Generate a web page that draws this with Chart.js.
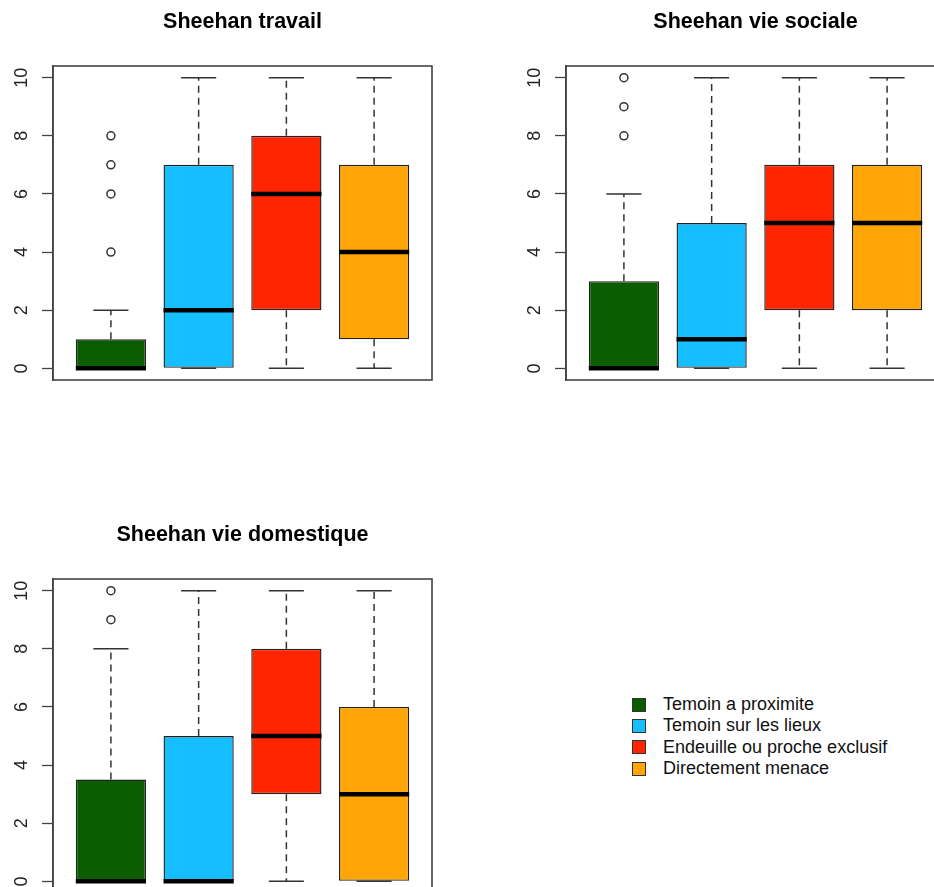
<!DOCTYPE html>
<html>
<head>
<meta charset="utf-8">
<title>Sheehan</title>
<script src="https://cdn.jsdelivr.net/npm/chart.js@4/dist/chart.umd.min.js"></script>
<style>
  html, body { margin: 0; padding: 0; background: #fff; }
  #page { position: relative; width: 934px; height: 887px; overflow: hidden; background: #fff; }
  #page canvas { position: absolute; display: block; }
  #legend { position: absolute; left: 632px; top: 694px; font: 18px "Liberation Sans", Arial, Helvetica, sans-serif; color: #111; }
  #legend .row { height: 21.4px; line-height: 21.4px; white-space: nowrap; display: flex; align-items: center; }
  #legend .sw { width: 12px; height: 12px; border: 1px solid #333; margin-right: 17px; flex: none; }
</style>
</head>
<body>
<div id="page">
  <canvas id="c1" width="513" height="513" style="left:0;top:0"></canvas>
  <canvas id="c2" width="513" height="513" style="left:513px;top:0"></canvas>
  <canvas id="c3" width="513" height="513" style="left:0;top:513px"></canvas>
  <div id="legend"></div>
</div>
<script>
// Groups and their fill colours
const groups = ['Temoin a proximite', 'Temoin sur les lieux', 'Endeuille ou proche exclusif', 'Directement menace'];
const groupColors = ['#0B5E00', '#14BEFF', '#FF2500', '#FFA505'];
const panelTitles = ['Sheehan travail', 'Sheehan vie sociale', 'Sheehan vie domestique'];
const yTicks = [0, 2, 4, 6, 8, 10];

// Sheehan travail: whisker ends, quartiles, medians, outliers
const travailLow = [0, 0, 0, 0];
const travailQ1 = [0, 0, 2, 1];
const travailMedian = [0, 2, 6, 4];
const travailQ3 = [1, 7, 8, 7];
const travailHigh = [2, 10, 10, 10];
const travailOutliers = [[4, 6, 7, 8], [], [], []];

// Sheehan vie sociale
const socialeLow = [0, 0, 0, 0];
const socialeQ1 = [0, 0, 2, 2];
const socialeMedian = [0, 1, 5, 5];
const socialeQ3 = [3, 5, 7, 7];
const socialeHigh = [6, 10, 10, 10];
const socialeOutliers = [[8, 9, 10], [], [], []];

// Sheehan vie domestique
const domestiqueLow = [0, 0, 0, 0];
const domestiqueQ1 = [0, 0, 3, 0];
const domestiqueMedian = [0, 0, 5, 3];
const domestiqueQ3 = [3.5, 5, 8, 6];
const domestiqueHigh = [8, 10, 10, 10];
const domestiqueOutliers = [[9, 10], [], [], []];

Chart.defaults.font.family = '"Liberation Sans", Arial, Helvetica, sans-serif';

// Whiskers, caps, medians and the frame around the plotting region
const boxplotParts = {
  id: 'boxplotParts',
  afterDatasetsDraw(chart, args, opts) {
    const { ctx, chartArea, scales: { x, y } } = chart;
    const s = opts.stats;
    ctx.save();
    for (let i = 0; i < s.median.length; i++) {
      const pos = i + 1;
      const cx = x.getPixelForValue(pos);
      const capL = x.getPixelForValue(pos - 0.2), capR = x.getPixelForValue(pos + 0.2);
      const boxL = x.getPixelForValue(pos - 0.4), boxR = x.getPixelForValue(pos + 0.4);
      // dashed whiskers
      ctx.strokeStyle = '#333';
      ctx.lineWidth = 1.5;
      ctx.setLineDash([7, 5]);
      ctx.beginPath();
      ctx.moveTo(cx, y.getPixelForValue(s.q3[i]));
      ctx.lineTo(cx, y.getPixelForValue(s.high[i]));
      ctx.moveTo(cx, y.getPixelForValue(s.q1[i]));
      ctx.lineTo(cx, y.getPixelForValue(s.low[i]));
      ctx.stroke();
      ctx.setLineDash([]);
      // staples
      ctx.beginPath();
      ctx.moveTo(capL, y.getPixelForValue(s.high[i]));
      ctx.lineTo(capR, y.getPixelForValue(s.high[i]));
      ctx.moveTo(capL, y.getPixelForValue(s.low[i]));
      ctx.lineTo(capR, y.getPixelForValue(s.low[i]));
      ctx.stroke();
      // median
      ctx.strokeStyle = '#000';
      ctx.lineWidth = 4.5;
      ctx.beginPath();
      ctx.moveTo(boxL, y.getPixelForValue(s.median[i]));
      ctx.lineTo(boxR, y.getPixelForValue(s.median[i]));
      ctx.stroke();
    }
    // frame
    ctx.strokeStyle = '#444';
    ctx.lineWidth = 1.6;
    ctx.strokeRect(chartArea.left, chartArea.top, chartArea.right - chartArea.left, chartArea.bottom - chartArea.top);
    ctx.restore();
  }
};

function makePanel(canvasId, title, low, q1, median, q3, high, outliers) {
  const boxes = q1.map((v, i) => ({ x: i + 1, y: [v, q3[i]] }));
  const points = [];
  outliers.forEach((list, i) => list.forEach(v => points.push({ x: i + 1, y: v })));
  return new Chart(document.getElementById(canvasId), {
    type: 'bar',
    data: {
      datasets: [
        {
          type: 'scatter',
          data: points,
          pointStyle: 'circle',
          pointRadius: 4,
          pointBorderWidth: 1.5,
          pointBorderColor: '#333',
          pointBackgroundColor: 'rgba(0,0,0,0)',
          showLine: false
        },
        {
          type: 'bar',
          data: boxes,
          backgroundColor: groupColors,
          borderColor: '#222',
          borderWidth: 1.4,
          borderSkipped: false,
          barPercentage: 0.8,
          categoryPercentage: 1.0
        }
      ]
    },
    options: {
      responsive: false,
      animation: false,
      devicePixelRatio: 1,
      layout: { padding: { left: 0, top: 0, right: 81, bottom: 133 } },
      plugins: {
        legend: { display: false },
        tooltip: { enabled: false },
        title: {
          display: true,
          text: title,
          fullSize: false,
          color: '#000',
          font: { size: 21.5, weight: 'bold' },
          padding: { top: 9, bottom: 31.2 }
        },
        boxplotParts: { stats: { low, q1, median, q3, high } }
      },
      scales: {
        x: {
          type: 'linear',
          min: 0.34,
          max: 4.66,
          offset: false,
          display: false,
          afterBuildTicks: s => { s.ticks = groups.map((g, i) => ({ value: i + 1 })); }
        },
        y: {
          type: 'linear',
          min: -0.4,
          max: 10.4,
          afterBuildTicks: s => { s.ticks = yTicks.map(v => ({ value: v })); },
          afterFit: s => { s.width = 53; },
          border: { display: true, color: '#444', width: 1.6 },
          grid: { drawOnChartArea: false, drawTicks: true, tickLength: 11, tickColor: '#444', tickWidth: 1.3 },
          ticks: { minRotation: 90, maxRotation: 90, crossAlign: 'center', padding: 10, color: '#222', font: { size: 18 } }
        }
      }
    },
    plugins: [boxplotParts]
  });
}

makePanel('c1', panelTitles[0], travailLow, travailQ1, travailMedian, travailQ3, travailHigh, travailOutliers);
makePanel('c2', panelTitles[1], socialeLow, socialeQ1, socialeMedian, socialeQ3, socialeHigh, socialeOutliers);
makePanel('c3', panelTitles[2], domestiqueLow, domestiqueQ1, domestiqueMedian, domestiqueQ3, domestiqueHigh, domestiqueOutliers);

// Legend for the four groups
const legend = document.getElementById('legend');
groups.forEach((g, i) => {
  const row = document.createElement('div');
  row.className = 'row';
  const sw = document.createElement('span');
  sw.className = 'sw';
  sw.style.background = groupColors[i];
  const label = document.createElement('span');
  label.textContent = g;
  row.appendChild(sw);
  row.appendChild(label);
  legend.appendChild(row);
});
</script>
</body>
</html>
